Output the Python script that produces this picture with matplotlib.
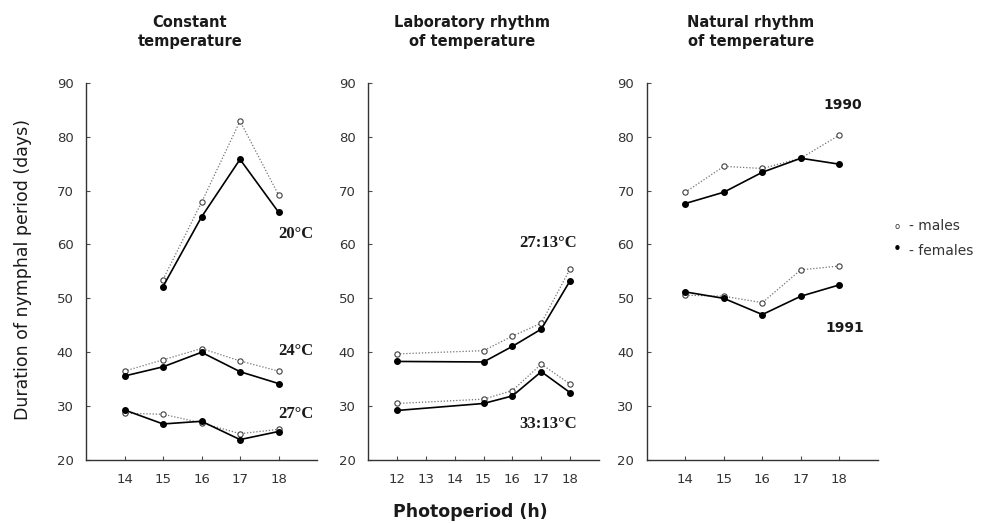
import matplotlib
matplotlib.use("Agg")
import matplotlib.pyplot as plt

# ---- data ----
x_const = [14, 15, 16, 17, 18]
c20_m = [None, 53.5, 67.8, 82.9, 69.2]
c20_f = [None, 52.2, 65.1, 75.8, 66.0]
c24_m = [36.5, 38.6, 40.7, 38.4, 36.5]
c24_f = [35.6, 37.3, 40.0, 36.4, 34.2]
c27_m = [28.7, 28.5, 26.9, 24.9, 25.7]
c27_f = [29.3, 26.7, 27.2, 23.8, 25.3]

x_lab = [12, 15, 16, 17, 18]
l27_m = [39.7, 40.3, 43.0, 45.4, 55.5]
l27_f = [38.3, 38.2, 41.1, 44.3, 53.3]
l33_m = [30.5, 31.3, 32.9, 37.8, 34.1]
l33_f = [29.2, 30.5, 31.9, 36.4, 32.5]

x_nat = [14, 15, 16, 17, 18]
n90_m = [69.7, 74.5, 74.1, 76.0, 80.3]
n90_f = [67.6, 69.7, 73.4, 76.0, 74.9]
n91_m = [50.6, 50.4, 49.2, 55.3, 56.0]
n91_f = [51.2, 50.0, 47.0, 50.4, 52.5]

titles = ["Constant\ntemperature", "Laboratory rhythm\nof temperature",
          "Natural rhythm\nof temperature"]

fig = plt.figure(figsize=(9.83, 5.24), dpi=100)
lefts = [0.0875, 0.3744, 0.658]
axes = [fig.add_axes([l, 0.122, 0.235, 0.720]) for l in lefts]

def males(ax, x, y):
    xs = [a for a, b in zip(x, y) if b is not None]
    ys = [b for b in y if b is not None]
    ax.plot(xs, ys, ls=(0, (1, 1.5)), lw=0.9, color="0.45", marker="o", ms=3.8,
            mfc="white", mec="0.25", mew=0.8, zorder=3)

def females(ax, x, y):
    xs = [a for a, b in zip(x, y) if b is not None]
    ys = [b for b in y if b is not None]
    ax.plot(xs, ys, ls="-", lw=1.2, color="black", marker="o", ms=4.0,
            mfc="black", mec="black", zorder=4)

ax = axes[0]
for m, f in [(c20_m, c20_f), (c24_m, c24_f), (c27_m, c27_f)]:
    males(ax, x_const, m); females(ax, x_const, f)
ax = axes[1]
for m, f in [(l27_m, l27_f), (l33_m, l33_f)]:
    males(ax, x_lab, m); females(ax, x_lab, f)
ax = axes[2]
for m, f in [(n90_m, n90_f), (n91_m, n91_f)]:
    males(ax, x_nat, m); females(ax, x_nat, f)

xlims = [(13, 19), (11, 19), (13, 19)]
xticks = [range(14, 19), range(12, 19), range(14, 19)]
for ax, xl, xt in zip(axes, xlims, xticks):
    ax.set_xlim(*xl); ax.set_ylim(20, 90)
    ax.set_xticks(list(xt)); ax.set_yticks(range(20, 91, 10))
    for s in ["top", "right"]:
        ax.spines[s].set_visible(False)
    for s in ["left", "bottom"]:
        ax.spines[s].set_color("0.2"); ax.spines[s].set_linewidth(1.0)
    ax.tick_params(direction="in", length=3, width=0.8, color="0.3",
                   labelsize=9.5, labelcolor="0.2")
    ax.tick_params(axis="y", pad=9)
    ax.tick_params(axis="x", pad=9)

for ax, t in zip(axes, titles):
    ax.text(0.45, 1.09, t, transform=ax.transAxes, ha="center", va="bottom",
            fontsize=10.5, fontweight="bold", color="0.1", linespacing=1.3)

lbl = dict(fontsize=12, fontweight="bold", family="Liberation Serif",
           ha="center", va="center", color="0.1")
axes[0].text(18.45, 62.0, "20°C", **lbl)
axes[0].text(18.45, 40.3, "24°C", **lbl)
axes[0].text(18.45, 28.5, "27°C", **lbl)
axes[1].text(17.25, 60.3, "27:13°C", **lbl)
axes[1].text(17.25, 26.6, "33:13°C", **lbl)
nl = dict(fontsize=10, fontweight="bold", ha="center", va="center", color="0.1")
axes[2].text(18.1, 85.9, "1990", **nl)
axes[2].text(18.15, 44.5, "1991", **nl)

fig.text(0.023, 0.485, "Duration of nymphal period (days)", rotation=90,
         ha="center", va="center", fontsize=12.5, color="0.1")
fig.text(0.478, 0.022, "Photoperiod (h)", ha="center", va="center",
         fontsize=12.5, fontweight="semibold", color="0.1")

# legend drawn as free text
fig.text(0.913, 0.568, "o", ha="center", va="center", fontsize=6, color="0.2")
fig.text(0.913, 0.523, "•", ha="center", va="center", fontsize=11, color="black")
fig.text(0.925, 0.568, "- males", ha="left", va="center", fontsize=10, color="0.2")
fig.text(0.925, 0.521, "- females", ha="left", va="center", fontsize=10, color="0.2")

fig.savefig("out.png", dpi=100)
